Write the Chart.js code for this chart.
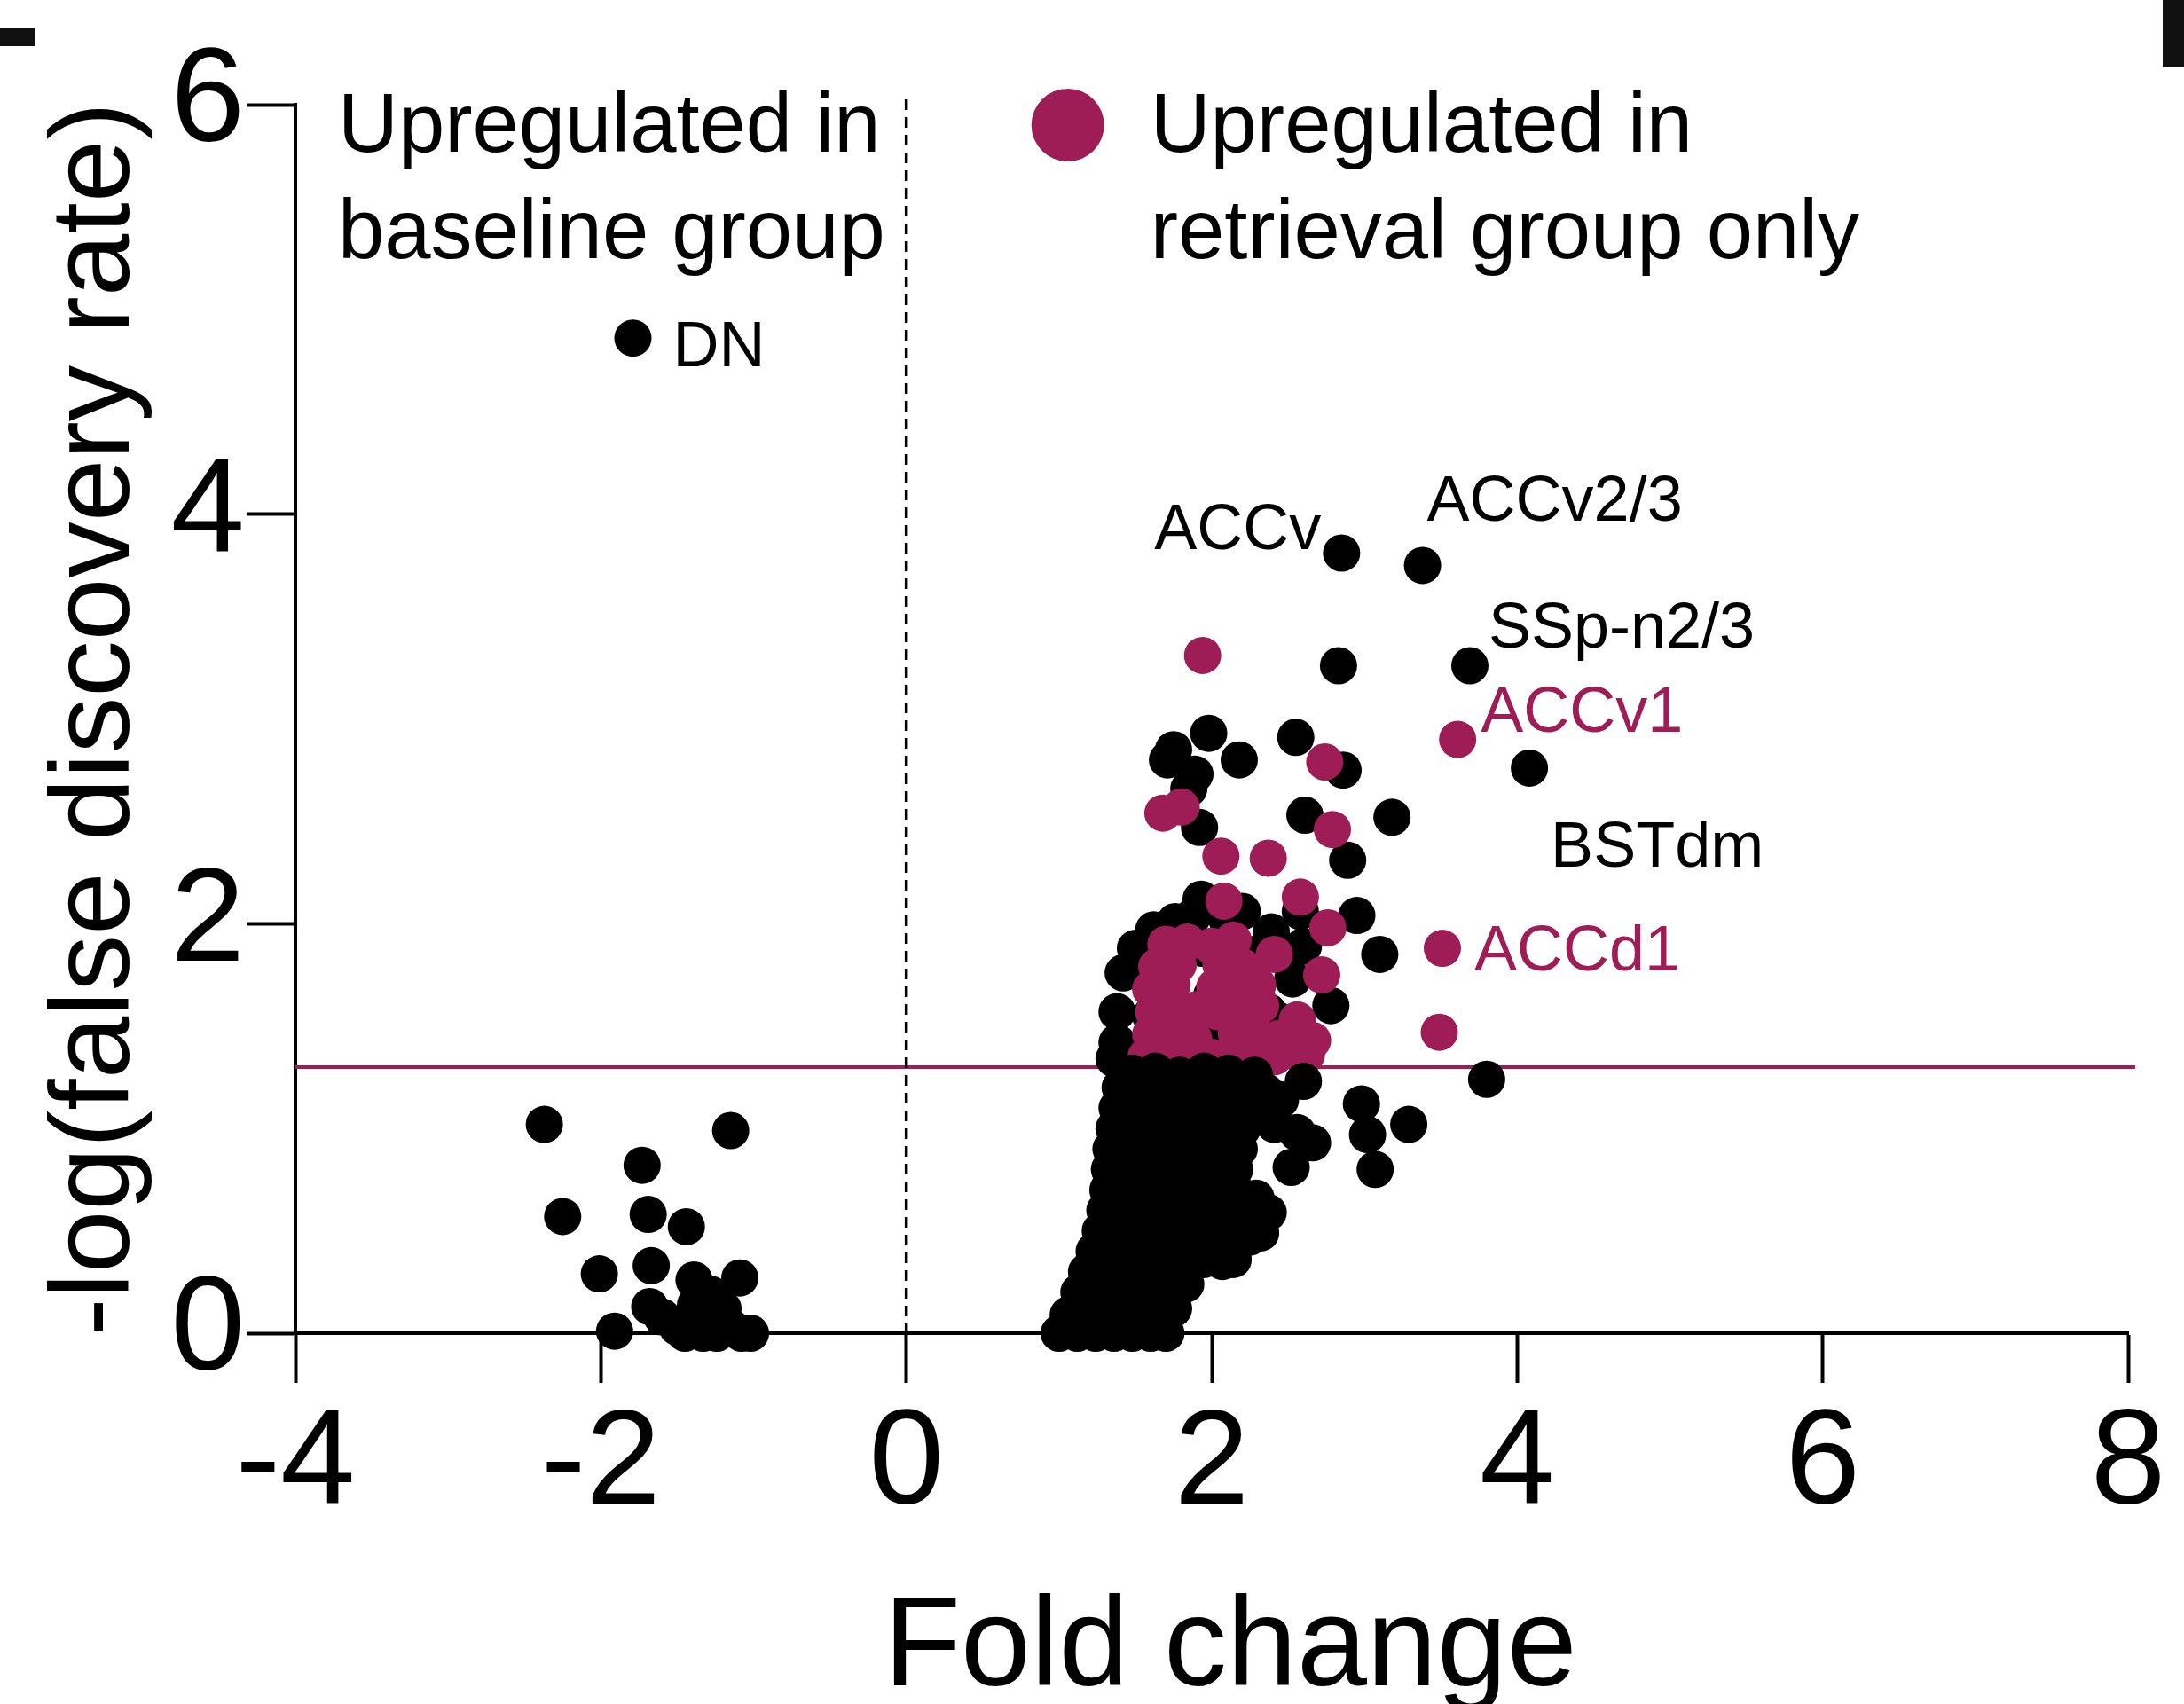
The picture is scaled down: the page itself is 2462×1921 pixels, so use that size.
<!DOCTYPE html>
<html>
<head>
<meta charset="utf-8">
<title>Fold change vs -log(FDR)</title>
<script src="https://cdn.jsdelivr.net/npm/chart.js@4.4.1/dist/chart.umd.min.js"></script>
<style>
  html, body { margin: 0; padding: 0; background: #fff; }
  #wrap { width: 2462px; height: 1921px; }
</style>
</head>
<body>
<div id="wrap"><canvas id="volcano" width="2462" height="1921"></canvas></div>
<script>
const MAGENTA = '#9f1d56';
const FONT = "'Liberation Sans', Arial, Helvetica, sans-serif";

// axes
const xTicks = [-4, -2, 0, 2, 4, 6, 8];
const yTicks = [0, 2, 4, 6];
const fdrCutoff = 1.3;

// regions higher in the baseline group (fold change, -log FDR)
const baselineUp = [
  [-1.79, 4.86],
  [-2.37, 1.02], [-1.15, 0.99], [-1.73, 0.82],
  [-2.25, 0.57], [-1.69, 0.58], [-1.44, 0.52],
  [-2.01, 0.29], [-1.67, 0.33], [-1.09, 0.27], [-1.39, 0.26],
  [-1.68, 0.13], [-1.91, 0.01],
  [-1.60, 0.08], [-1.50, 0.03], [-1.45, 0.00], [-1.38, 0.14], [-1.33, 0.00],
  [-1.29, 0.08], [-1.24, 0.00], [-1.20, 0.12], [-1.15, 0.03], [-1.08, 0.00],
  [-1.02, 0.00], [-1.28, 0.19], [-1.42, 0.07]
];

// retrieval side, below the FDR cut-off
const notSignificant = [
  [1.00, 0.00], [1.12, 0.00], [1.24, 0.00], [1.36, 0.00], [1.48, 0.00], [1.60, 0.00], [1.70, 0.00],
  [1.06, 0.09], [1.19, 0.10], [1.31, 0.11], [1.43, 0.09], [1.55, 0.10], [1.67, 0.11], [1.75, 0.12],
  [1.13, 0.20], [1.25, 0.19], [1.37, 0.21], [1.49, 0.20], [1.61, 0.19], [1.73, 0.21], [1.83, 0.24],
  [1.18, 0.30], [1.30, 0.31], [1.42, 0.29], [1.54, 0.30], [1.66, 0.31], [1.78, 0.30], [1.95, 0.36], [2.07, 0.35], [2.14, 0.36],
  [1.23, 0.40], [1.35, 0.41], [1.47, 0.39], [1.59, 0.40], [1.71, 0.42], [1.83, 0.40], [1.95, 0.44], [2.07, 0.43],
  [1.27, 0.50], [1.39, 0.51], [1.51, 0.49], [1.63, 0.50], [1.75, 0.52], [1.87, 0.50], [1.99, 0.51], [2.11, 0.49], [2.25, 0.47], [2.32, 0.49],
  [1.30, 0.60], [1.42, 0.61], [1.54, 0.59], [1.66, 0.60], [1.78, 0.62], [1.90, 0.60], [2.02, 0.61], [2.14, 0.59], [2.26, 0.58], [2.37, 0.59],
  [1.32, 0.70], [1.44, 0.71], [1.56, 0.69], [1.68, 0.70], [1.80, 0.72], [1.92, 0.70], [2.04, 0.71], [2.15, 0.70], [2.29, 0.66],
  [1.33, 0.80], [1.45, 0.81], [1.57, 0.79], [1.69, 0.80], [1.81, 0.82], [1.93, 0.80], [2.05, 0.81], [2.15, 0.80], [2.52, 0.81], [3.07, 0.80],
  [1.34, 0.90], [1.46, 0.91], [1.58, 0.89], [1.70, 0.90], [1.82, 0.92], [1.94, 0.90], [2.06, 0.91], [2.18, 0.90], [2.66, 0.93], [2.56, 0.98],
  [1.36, 1.00], [1.48, 1.01], [1.60, 0.99], [1.72, 1.00], [1.84, 1.02], [1.96, 1.00], [2.08, 1.01], [2.20, 1.00], [2.41, 1.02], [3.02, 0.97], [3.29, 1.02],
  [1.38, 1.10], [1.50, 1.11], [1.62, 1.09], [1.74, 1.10], [1.86, 1.12], [1.98, 1.10], [2.10, 1.11], [2.22, 1.10], [2.45, 1.14], [2.98, 1.12],
  [1.40, 1.20], [1.52, 1.21], [1.64, 1.19], [1.76, 1.20], [1.88, 1.22], [2.00, 1.20], [2.12, 1.21], [2.24, 1.20], [2.35, 1.18], [2.60, 1.23], [3.80, 1.24],
  [1.48, 1.27], [1.63, 1.28], [1.79, 1.26], [1.95, 1.28], [2.11, 1.27], [2.28, 1.26]
];

// above the cut-off, but also up in the baseline group
const significantBoth = [
  [2.85, 3.81], [3.38, 3.75], [2.83, 3.26], [3.69, 3.26], [4.08, 2.76],
  [2.55, 2.91], [1.71, 2.80], [1.75, 2.85], [1.98, 2.93], [2.18, 2.80], [1.89, 2.73], [1.85, 2.66],
  [2.86, 2.75], [1.92, 2.47], [2.61, 2.53], [3.18, 2.52], [2.89, 2.31],
  [1.93, 2.12], [2.58, 2.06], [2.95, 2.04], [3.10, 1.85], [1.76, 2.01], [2.20, 2.06],
  [1.87, 2.03], [2.10, 2.02],
  [2.39, 1.96], [2.25, 1.85], [2.60, 1.89], [2.53, 1.73], [2.78, 1.60], [2.43, 1.53],
  [1.42, 1.76], [1.38, 1.57], [1.38, 1.42], [1.36, 1.34], [1.50, 1.88], [1.62, 1.97],
  [1.94, 1.88], [1.73, 1.65], [2.00, 1.65], [2.10, 1.62], [1.98, 1.50], [2.37, 1.57],
  [1.60, 1.55], [2.25, 1.45], [1.80, 1.45]
];

// up in the retrieval group only
const retrievalOnly = [
  [1.94, 3.31], [3.61, 2.90], [2.74, 2.79],
  [1.68, 2.54], [1.80, 2.57], [2.79, 2.46],
  [2.06, 2.33], [2.37, 2.32],
  [2.08, 2.11], [2.58, 2.13], [2.76, 1.98],
  [3.51, 1.88], [3.49, 1.47],
  [2.72, 1.75], [2.41, 1.85], [2.56, 1.53], [2.66, 1.43], [2.62, 1.36],
  [1.57, 1.35], [1.71, 1.34], [1.85, 1.36], [1.99, 1.35], [2.13, 1.34], [2.27, 1.36], [2.41, 1.35], [2.52, 1.38],
  [1.60, 1.46], [1.74, 1.47], [1.88, 1.44], [2.16, 1.47], [2.30, 1.45], [2.44, 1.44],
  [1.62, 1.57], [1.76, 1.56], [1.90, 1.58], [2.04, 1.57], [2.18, 1.56], [2.32, 1.60],
  [1.60, 1.68], [1.74, 1.70], [2.02, 1.69], [2.16, 1.68], [2.30, 1.70],
  [1.64, 1.79], [1.78, 1.80], [2.06, 1.80], [2.20, 1.79],
  [1.70, 1.90], [1.84, 1.91], [2.00, 1.89], [2.14, 1.92]
];

// named regions
const regionLabels = [
  { name: 'DN', x: -1.79, y: 4.86, color: '#000' },
  { name: 'ACCv', x: 2.85, y: 3.81, color: '#000' },
  { name: 'ACCv2/3', x: 3.38, y: 3.75, color: '#000' },
  { name: 'SSp-n2/3', x: 3.69, y: 3.26, color: '#000' },
  { name: 'ACCv1', x: 3.61, y: 2.90, color: MAGENTA },
  { name: 'BSTdm', x: 4.08, y: 2.76, color: '#000' },
  { name: 'ACCd1', x: 3.51, y: 1.88, color: MAGENTA }
];

// where each name sits relative to its dot: [dx, dy, align]
const labelPlacement = {
  'DN': [45, 32, 'left'],
  'ACCv': [-23, -5, 'right'],
  'ACCv2/3': [5, -50, 'left'],
  'SSp-n2/3': [21, -20, 'left'],
  'ACCv1': [26, -9, 'left'],
  'BSTdm': [24, 111, 'left'],
  'ACCd1': [36, 25, 'left']
};

const headerLeft = ['Upregulated in', 'baseline group'];
const headerRight = ['Upregulated in', 'retrieval group only'];
const xTitle = 'Fold change';

function toPoints(pairs) {
    return pairs.map(p => ({ x: p[0], y: p[1] }));
}

function dotSet(label, pairs, color) {
    return {
        label: label,
        data: toPoints(pairs),
        backgroundColor: color,
        borderWidth: 0,
        pointRadius: 21,
        pointHoverRadius: 21,
        clip: false
    };
}

const overlay = {
    id: 'overlay',
    beforeDatasetsDraw(chart) {
        const { ctx, chartArea, scales: { x, y } } = chart;
        ctx.save();
        // FDR cut-off
        const cy = y.getPixelForValue(fdrCutoff);
        ctx.strokeStyle = MAGENTA;
        ctx.lineWidth = 4;
        ctx.beginPath();
        ctx.moveTo(chartArea.left, cy);
        ctx.lineTo(chartArea.right + 8, cy);
        ctx.stroke();
        // no change
        const zx = x.getPixelForValue(0);
        ctx.strokeStyle = '#000';
        ctx.lineWidth = 3.5;
        ctx.setLineDash([12, 8]);
        ctx.beginPath();
        ctx.moveTo(zx, chartArea.top - 6);
        ctx.lineTo(zx, chartArea.bottom);
        ctx.stroke();
        ctx.restore();
    },
    afterDatasetsDraw(chart) {
        const { ctx, chartArea, scales: { x, y } } = chart;
        ctx.save();
        ctx.textBaseline = 'alphabetic';

        ctx.font = '72px ' + FONT;
        regionLabels.forEach(l => {
            const p = labelPlacement[l.name];
            ctx.fillStyle = l.color;
            ctx.textAlign = p[2];
            ctx.fillText(l.name, x.getPixelForValue(l.x) + p[0], y.getPixelForValue(l.y) + p[1]);
        });

        // group headers
        const zx = x.getPixelForValue(0);
        ctx.font = '94px ' + FONT;
        ctx.fillStyle = '#000';
        ctx.textAlign = 'left';
        headerLeft.forEach((t, i) => ctx.fillText(t, chartArea.left + 48, chartArea.top + 53 + i * 120));
        headerRight.forEach((t, i) => ctx.fillText(t, zx + 275, chartArea.top + 53 + i * 120));

        ctx.fillStyle = MAGENTA;
        ctx.beginPath();
        ctx.arc(zx + 182, chartArea.top + 23, 41, 0, Math.PI * 2);
        ctx.fill();

        // x axis title, sitting a little right of centre
        ctx.font = '142px ' + FONT;
        ctx.fillStyle = '#000';
        ctx.textAlign = 'center';
        ctx.fillText(xTitle, (chartArea.left + chartArea.right) / 2 + 21, chart.height - 21);
        ctx.restore();
    },
    afterDraw(chart) {
        // edges of the neighbouring panels
        const ctx = chart.ctx;
        ctx.save();
        ctx.fillStyle = '#111';
        ctx.fillRect(0, 32, 40, 20);
        ctx.fillRect(2438, 0, 24, 76);
        ctx.restore();
    }
};

new Chart(document.getElementById('volcano'), {
    type: 'scatter',
    data: {
        datasets: [
            dotSet('Not significant', notSignificant, '#000'),
            dotSet('Upregulated in retrieval group only', retrievalOnly, MAGENTA),
            dotSet('Upregulated in both', significantBoth, '#000'),
            dotSet('Upregulated in baseline group', baselineUp, '#000')
        ]
    },
    options: {
        responsive: false,
        devicePixelRatio: 1,
        animation: false,
        events: [],
        layout: { padding: { top: 118, right: 63, left: 0, bottom: 0 } },
        plugins: { legend: { display: false }, tooltip: { enabled: false } },
        scales: {
            x: {
                type: 'linear',
                min: xTicks[0],
                max: xTicks[xTicks.length - 1],
                afterBuildTicks: s => { s.ticks = xTicks.map(v => ({ value: v })); },
                afterFit: s => { s.height = 418; },
                border: { display: true, color: '#000', width: 4 },
                grid: { drawOnChartArea: false, drawTicks: true, tickLength: 56, tickWidth: 4, tickColor: '#000' },
                ticks: { color: '#000', font: { family: FONT, size: 152 }, padding: 3, maxRotation: 0, autoSkip: false }
            },
            y: {
                type: 'linear',
                min: yTicks[0],
                max: yTicks[yTicks.length - 1],
                afterBuildTicks: s => { s.ticks = yTicks.map(v => ({ value: v })); },
                afterFit: s => { s.width = 333; },
                border: { display: true, color: '#000', width: 4 },
                grid: { drawOnChartArea: false, drawTicks: true, tickLength: 55, tickWidth: 4, tickColor: '#000' },
                ticks: { color: '#000', font: { family: FONT, size: 150 }, padding: 2, autoSkip: false },
                title: { display: true, text: '-log(false discovery rate)', color: '#000', font: { family: FONT, size: 127, lineHeight: 1 }, padding: { top: 46 } }
            }
        }
    },
    plugins: [overlay]
});
</script>
</body>
</html>
